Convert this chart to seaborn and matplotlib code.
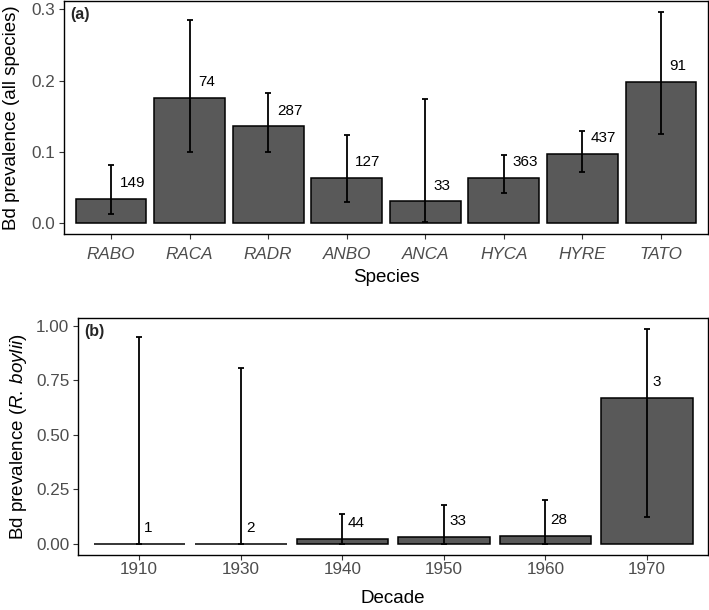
import numpy as np
import pandas as pd
import matplotlib
matplotlib.use("Agg")
import matplotlib.pyplot as plt
import seaborn as sns

species = ["RABO", "RACA", "RADR", "ANBO", "ANCA", "HYCA", "HYRE", "TATO"]
sp_prev = [0.034, 0.1755, 0.136, 0.063, 0.0306, 0.063, 0.0967, 0.198]
sp_lo = [0.0125, 0.100, 0.0995, 0.030, 0.002, 0.042, 0.071, 0.1245]
sp_hi = [0.081, 0.285, 0.182, 0.124, 0.1747, 0.095, 0.1287, 0.297]
sp_n = [149, 74, 287, 127, 33, 363, 437, 91]

decades = ["1910", "1930", "1940", "1950", "1960", "1970"]
dec_prev = [0.0, 0.0, 0.023, 0.030, 0.036, 0.668]
dec_lo = [0.0, 0.0, 0.0, 0.0, 0.0, 0.125]
dec_hi = [0.95, 0.805, 0.135, 0.176, 0.203, 0.985]
dec_n = [1, 2, 44, 33, 28, 3]

sns.set_theme(style="white")
plt.rcParams["font.family"] = ["Liberation Sans", "DejaVu Sans"]
plt.rcParams["mathtext.fontset"] = "custom"
plt.rcParams["mathtext.it"] = "Liberation Sans:italic"
plt.rcParams["mathtext.rm"] = "Liberation Sans"

fig = plt.figure(figsize=(7.09, 6.10), dpi=100)
ax1 = fig.add_axes([64/709, 1-233.5/610, (708-64)/709, (233.5-1)/610])
ax2 = fig.add_axes([78.3/709, 1-554.5/610, (708-78.3)/709, (554.5-318.3)/610])

BAR = "#595959"
TICKC = "#4D4D4D"

def panel(ax, cats, prev, lo, hi, ns, xlabel, ylabel, tag, lab_dx, italic,
          xpad, xlpad, ylpad):
    df = pd.DataFrame({"cat": cats, "prev": prev})
    sns.barplot(data=df, x="cat", y="prev", ax=ax, color=BAR, width=0.9,
                edgecolor="black", linewidth=1.1, saturation=1)
    x = np.arange(len(cats))
    p = np.array(prev); l = np.array(lo); h = np.array(hi)
    ax.errorbar(x, p, yerr=[p - l, h - p], fmt="none", ecolor="black",
                elinewidth=1.3, capsize=2.3, capthick=1.3, zorder=5)
    top = max(h.max(), p.max())
    rng = top
    ax.set_ylim(-0.05 * rng, top + 0.05 * rng)
    ax.set_xlim(-0.6, len(cats) - 0.4)
    off = 0.074 * rng
    for xi, pi, ni in zip(x, p, ns):
        ax.text(xi + lab_dx, pi + off, str(ni), ha="left", va="center",
                fontsize=11, color="black", zorder=6)
    ax.set_xlabel(xlabel, fontsize=13.5, color="black", labelpad=xlpad)
    ax.set_ylabel(ylabel, fontsize=13.5, color="black", labelpad=ylpad)
    ax.tick_params(axis="both", which="both", length=3.5, width=0.8,
                   color="#333333", labelsize=12.3, labelcolor=TICKC, pad=3,
                   bottom=True, left=True)
    ax.tick_params(axis="x", pad=xpad)
    if italic:
        for t in ax.get_xticklabels():
            t.set_fontstyle("italic")
    for s in ax.spines.values():
        s.set_color("black")
        s.set_linewidth(1.0)
    ax.text(0.01, 0.975, tag, transform=ax.transAxes, fontsize=11.5,
            fontweight="bold", ha="left", va="top")

panel(ax1, species, sp_prev, sp_lo, sp_hi, sp_n, "Species",
      "Bd prevalence (all species)", "(a)", 0.11, True, 6, 5, 8)
ax1.set_yticks([0.0, 0.1, 0.2, 0.3])
ax1.set_yticklabels(["0.0", "0.1", "0.2", "0.3"])

panel(ax2, decades, dec_prev, dec_lo, dec_hi, dec_n, "Decade",
      "Bd prevalence ($\\mathit{R.\\:boylii}$)", "(b)", 0.05, False,
      2, 9, 5)
ax2.set_yticks([0.0, 0.25, 0.5, 0.75, 1.0])
ax2.set_yticklabels(["0.00", "0.25", "0.50", "0.75", "1.00"])

fig.savefig("out.png", dpi=100)
